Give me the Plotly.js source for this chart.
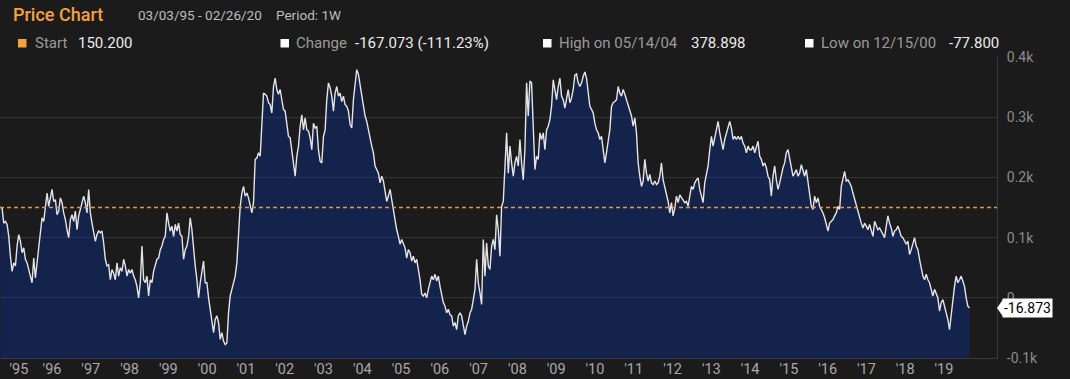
<!DOCTYPE html>
<html><head><meta charset="utf-8">
<script src="https://cdn.plot.ly/plotly-3.0.1.min.js"></script>
<style>html,body{margin:0;padding:0;background:#1b1b1b;overflow:hidden}#chart{width:1070px;height:379px}</style>
</head><body><div id="chart"></div>
<script>
// ---- data ----
const START_DATE = '1995-03-03';
const END_DATE = '2020-02-26';
const HIGH_DATE_TEXT = '05/14/04';
const LOW_DATE_TEXT = '12/15/00';
const PERIOD_TEXT = '1W';
// evenly spaced samples from START_DATE to END_DATE
const prices = [150.2,
149,124,127,122,102,69,44,58,53,86,
105,94,75,83,64,58,44,36,25,66,
33,58,83,102,133,127,152,174,152,166,
180,160,163,138,144,166,158,141,130,113,
100,130,138,127,144,113,136,147,160,169,
158,141,180,141,124,111,94,105,111,108,
111,91,64,53,55,30,47,41,30,58,
36,50,44,64,53,36,47,41,47,36,
30,19,0,25,86,30,25,36,3,30,
25,44,53,64,66,80,86,97,102,141,
124,111,119,102,122,111,124,105,102,64,
80,86,102,133,113,80,53,30,0,25,
47,61,25,25,0,-17,-41,-58,-36,-30,
-41,-69,-58,-72,-77.8,-75,-25,3,14,25,
36,58,102,152,174,185,169,174,166,155,
141,158,230,232,241,235,296,340,338,335,
324,321,307,351,365,346,338,346,329,313,
310,290,268,266,246,219,202,235,252,285,
304,279,299,279,277,266,246,290,282,285,
246,227,224,268,279,329,357,349,335,310,
340,351,335,340,326,335,321,318,310,288,
282,329,351,378.898,371,354,340,321,302,293,
277,263,252,241,219,213,207,191,202,194,
177,160,169,180,163,144,130,113,102,89,
97,91,83,66,80,75,61,69,58,64,
50,30,6,3,8,0,14,25,36,30,
39,28,36,19,3,-8,-14,-25,-19,-28,
-30,-47,-41,-53,-30,-25,-30,-47,-61,-47,
-39,-25,-19,-3,14,64,25,8,-11,97,
36,91,53,47,86,97,80,138,113,69,
152,160,207,274,207,252,224,202,224,235,
219,263,224,196,246,357,302,360,357,285,
213,235,230,274,263,274,246,279,285,296,
318,362,346,329,351,365,335,329,315,335,
346,324,332,346,370,372,357,351,357,368,
375,365,335,318,313,307,290,279,274,263,
268,246,224,241,257,279,318,324,326,329,
351,340,335,346,338,329,318,310,302,285,
299,274,224,202,185,194,230,207,194,205,
191,188,194,188,191,202,224,196,185,174,
160,141,158,136,149,169,158,171,166,163,
158,160,152,169,185,180,191,196,199,180,
169,158,191,207,219,246,268,252,266,279,
293,274,260,246,263,274,282,293,282,263,
268,263,268,263,268,257,252,241,252,246,
246,252,241,252,260,235,230,219,224,216,
202,196,169,202,219,196,180,191,207,216,
224,241,246,230,219,202,207,213,202,207,
221,213,202,213,191,169,152,147,169,158,
166,152,147,141,133,124,111,124,127,130,
136,141,152,147,185,196,210,194,196,191,
185,174,163,152,141,130,124,116,124,119,
113,122,111,102,127,119,113,116,111,105,
100,119,136,124,116,102,111,113,119,111,
102,100,94,89,94,72,80,91,100,86,
80,64,47,36,30,39,30,25,14,3,
14,8,0,-22,-8,-3,-14,-25,-36,-53,
-25,3,19,36,25,30,36,28,19,0,
-14,
-16.873];

const yTickVals = [-100, 0, 100, 200, 300, 400];
const yTickText = ['-0.1k', '0', '0.1k', '0.2k', '0.3k', '0.4k'];
const xTickText = ["'95","'96","'97","'98","'99","'00","'01","'02","'03","'04","'05","'06","'07",
                   "'08","'09","'10","'11","'12","'13","'14","'15","'16","'17","'18","'19"];
const xTickDates = ['1995-08-25','1996-07-01','1997-07-01','1998-07-01','1999-07-01','2000-07-01',
                    '2001-07-01','2002-07-01','2003-07-01','2004-07-01','2005-07-01','2006-07-01',
                    '2007-07-01','2008-07-01','2009-07-01','2010-07-01','2011-07-01','2012-07-01',
                    '2013-07-01','2014-07-01','2015-07-01','2016-07-01','2017-07-01','2018-07-01',
                    '2019-07-01'];
const X_RANGE = ['1995-02-27', '2020-11-11'];
const Y_RANGE = [-100, 400];

// ---- derived ----
const t0 = Date.parse(START_DATE + 'T00:00:00Z'), t1 = Date.parse(END_DATE + 'T00:00:00Z');
const n = prices.length;
const dates = prices.map((_, i) => new Date(t0 + (t1 - t0) * i / (n - 1)).toISOString().slice(0, 19).replace('T', ' '));
const startVal = prices[0], lastVal = prices[n - 1];
const change = lastVal - startVal;
const pct = change / startVal * 100;
const hi = Math.max(...prices), lo = Math.min(...prices);
function fmtDate(s){ const [y,m,d] = s.split('-'); return m + '/' + d + '/' + y.slice(2); }

// ---- layout helpers (pixel -> paper) ----
const W = 1070, H = 379, M = {l: 0, r: 73, t: 57, b: 21};
const PW = W - M.l - M.r, PH = H - M.t - M.b;
const px = x => (x - M.l) / PW;
const py = y => (M.t + PH - y) / PH;
const FONT = 'Roboto, "Open Sans", sans-serif';
const GREY = '#9a9a9a', WHITE = '#ececec', ORANGE = '#f4a23c';

function note(text, x, y, size, color, weight){
  return {text: text, xref: 'paper', yref: 'paper', x: px(x), y: py(y), xanchor: 'left', yanchor: 'middle',
          showarrow: false, borderpad: 0, font: {family: FONT, size: size, color: color, weight: weight || 400}};
}
const ROW = 43;
const annotations = [
  note('Price Chart', 12, 15, 18, ORANGE, 500),
  note(fmtDate(START_DATE) + ' - ' + fmtDate(END_DATE), 137, 15, 13.5, '#bdbdbd'),
  note('Period: ' + PERIOD_TEXT, 275, 15, 13.5, '#bdbdbd'),
  note('Start', 34, ROW, 15, GREY),
  note(startVal.toFixed(3), 77, ROW, 15, WHITE),
  note('Change', 295, ROW, 15, GREY),
  note(change.toFixed(3) + ' (' + pct.toFixed(2) + '%)', 354, ROW, 15, WHITE),
  note('High on ' + HIGH_DATE_TEXT, 558, ROW, 15, GREY),
  note(hi.toFixed(3), 690, ROW, 15, WHITE),
  note('Low on ' + LOW_DATE_TEXT, 820, ROW, 15, GREY),
  note(lo.toFixed(3), 948, ROW, 15, WHITE),
  {text: lastVal.toFixed(3), xref: 'paper', yref: 'y', x: 1, y: lastVal, xanchor: 'left', yanchor: 'middle',
   xshift: 5, showarrow: false, bgcolor: '#ffffff', borderpad: 1,
   font: {family: FONT, size: 14, color: '#000000'}}
];
function square(x, color){
  return {type: 'rect', xref: 'paper', yref: 'paper', x0: px(x), x1: px(x + 8.5), y0: py(ROW + 4.5), y1: py(ROW - 4),
          fillcolor: color, line: {width: 0}};
}
const yPerPx = (Y_RANGE[1] - Y_RANGE[0]) / PH;
const shapes = [
  {type: 'line', xref: 'paper', x0: 0, x1: 1, yref: 'y', y0: startVal, y1: startVal,
   line: {color: '#e39a3b', width: 1.5, dash: '4px,3px'}},
  square(18, ORANGE), square(280.5, '#ffffff'), square(543, '#ffffff'), square(805, '#ffffff'),
  {type: 'path', xref: 'paper', yref: 'y',
   path: 'M ' + px(M.l + PW) + ' ' + lastVal + ' L ' + px(M.l + PW + 6) + ' ' + (lastVal + 8.5 * yPerPx) +
         ' L ' + px(M.l + PW + 6) + ' ' + (lastVal - 8.5 * yPerPx) + ' Z',
   fillcolor: '#ffffff', line: {width: 0}}
];

const traces = [
  {x: dates, y: dates.map(() => Y_RANGE[0]), type: 'scatter', mode: 'lines', line: {width: 0, color: 'rgba(0,0,0,0)'},
   hoverinfo: 'skip', showlegend: false},
  {x: dates, y: prices, type: 'scatter', mode: 'lines', fill: 'tonexty', fillcolor: 'rgba(0,58,211,0.26)',
   line: {color: '#e4e4e4', width: 1.4}, showlegend: false}
];

const layout = {
  width: W, height: H, margin: M,
  paper_bgcolor: '#1b1b1b', plot_bgcolor: '#1b1b1b',
  font: {family: FONT, color: '#9a9a9a'},
  showlegend: false,
  xaxis: {type: 'date', range: X_RANGE, tickmode: 'array', tickvals: xTickDates, ticktext: xTickText,
          showgrid: false, zeroline: false, showline: true, linecolor: '#3a3a3a', linewidth: 1,
          ticks: '', ticklabelstandoff: -2, tickfont: {family: FONT, size: 14.5, color: '#a8a8a8'}},
  yaxis: {range: Y_RANGE, side: 'right', tickmode: 'array', tickvals: yTickVals, ticktext: yTickText,
          showgrid: true, gridcolor: '#333333', gridwidth: 1, zeroline: false,
          showline: true, linecolor: '#3a3a3a', linewidth: 1, ticks: '', ticklabelstandoff: 6,
          tickfont: {family: FONT, size: 14, color: '#8c8c8c'}},
  annotations: annotations,
  shapes: shapes
};
Plotly.newPlot('chart', traces, layout, {staticPlot: true, displayModeBar: false});
</script>
</body></html>
